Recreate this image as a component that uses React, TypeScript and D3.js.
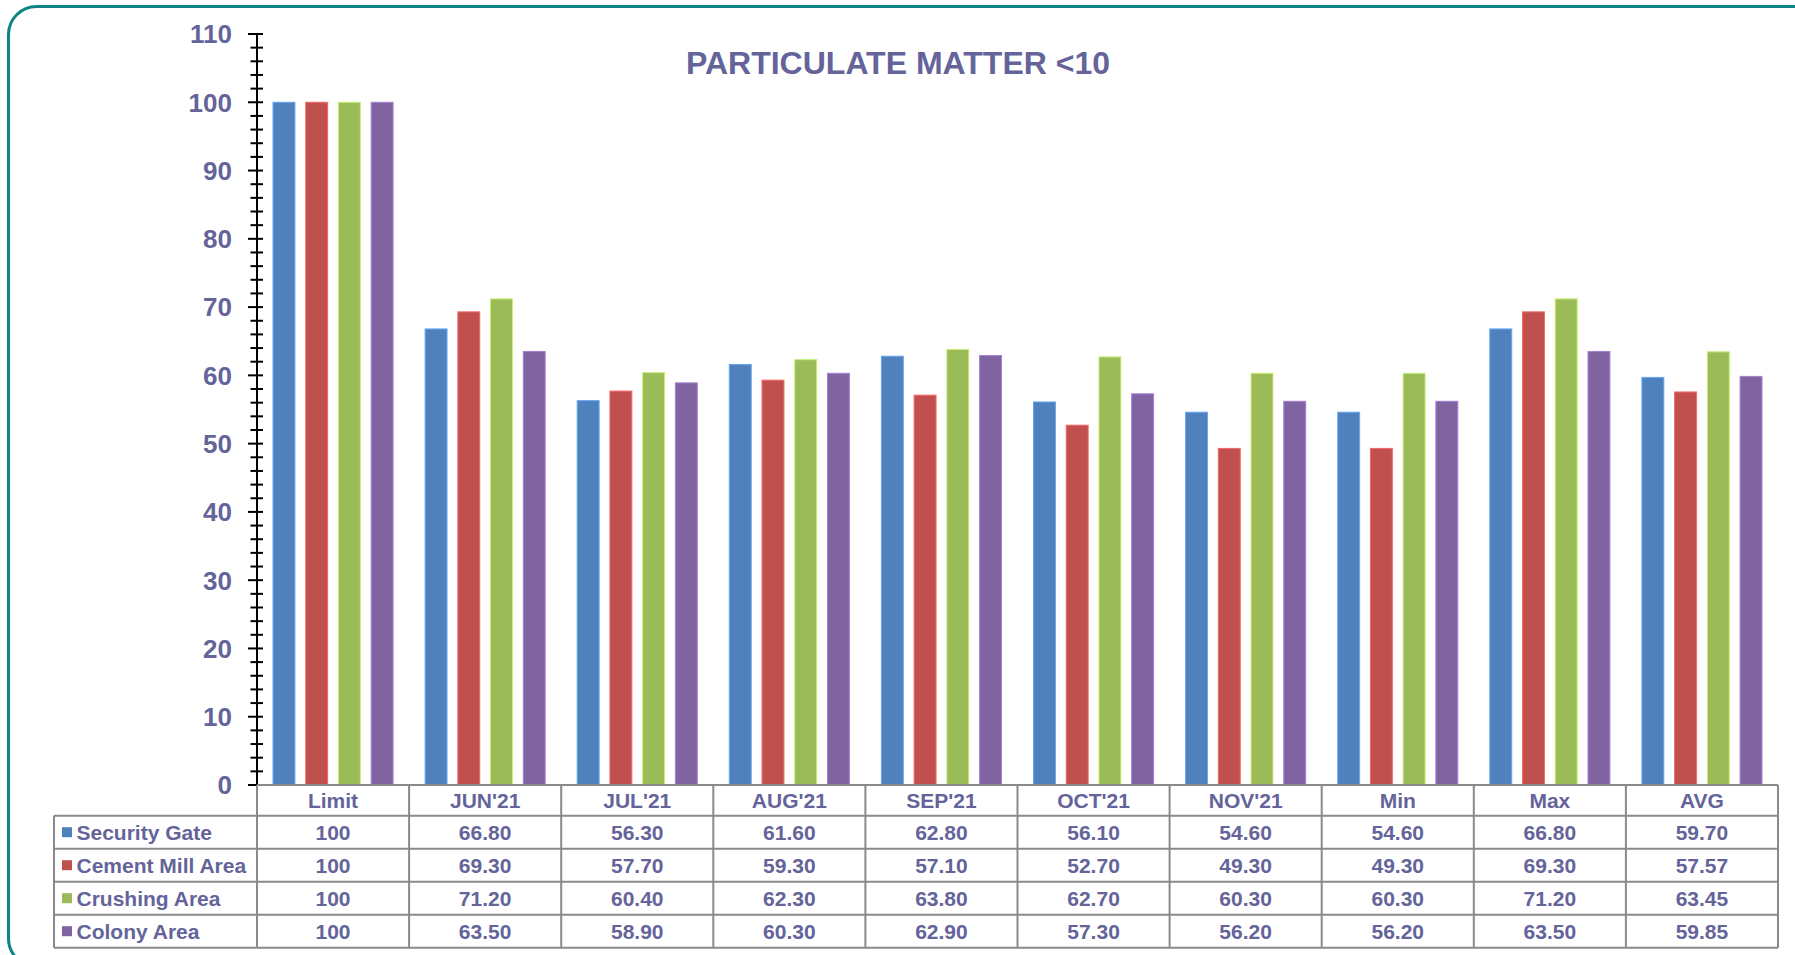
import React from "react";
import * as d3 from "d3";

const categories = ["Limit", "JUN'21", "JUL'21", "AUG'21", "SEP'21", "OCT'21", "NOV'21", "Min", "Max", "AVG"];
const seriesNames = ["Security Gate", "Cement Mill Area", "Crushing Area", "Colony Area"];
const seriesColors = ["#4f81bd", "#c0504d", "#9bbb59", "#8064a2"];
const securityGate = [100, 66.8, 56.3, 61.6, 62.8, 56.1, 54.6, 54.6, 66.8, 59.7];
const cementMill = [100, 69.3, 57.7, 59.3, 57.1, 52.7, 49.3, 49.3, 69.3, 57.57];
const crushing = [100, 71.2, 60.4, 62.3, 63.8, 62.7, 60.3, 60.3, 71.2, 63.45];
const colony = [100, 63.5, 58.9, 60.3, 62.9, 57.3, 56.2, 56.2, 63.5, 59.85];
const seriesValues = [securityGate, cementMill, crushing, colony];
const cellLabels = [
  ["100", "66.80", "56.30", "61.60", "62.80", "56.10", "54.60", "54.60", "66.80", "59.70"],
  ["100", "69.30", "57.70", "59.30", "57.10", "52.70", "49.30", "49.30", "69.30", "57.57"],
  ["100", "71.20", "60.40", "62.30", "63.80", "62.70", "60.30", "60.30", "71.20", "63.45"],
  ["100", "63.50", "58.90", "60.30", "62.90", "57.30", "56.20", "56.20", "63.50", "59.85"],
];
const yTicks = [0, 10, 20, 30, 40, 50, 60, 70, 80, 90, 100, 110];
const title = "PARTICULATE MATTER <10";

const W = 1795;
const H = 955;
const TEXT = "#64649a";
const FONT = "'Liberation Sans', Arial, sans-serif";

export default function App() {
  const plotLeft = 257;
  const plotRight = 1778;
  const y = d3.scaleLinear().domain([0, 110]).range([785, 34]);
  const x = d3.scaleBand<string>().domain(categories).range([plotLeft, plotRight]).padding(0);
  const B = x.bandwidth();
  const inner = d3
    .scaleBand<string>()
    .domain(seriesNames)
    .range([16, B - 16])
    .paddingInner(0.33)
    .paddingOuter(0);
  const minorTicks = d3.range(0, 111, 2).filter((v) => v % 10 !== 0);

  const tableTop = y(0);
  const headerBottom = 815.7;
  const rowH = 33;
  const rowsBottom = headerBottom + rowH * 4;
  const legendLeft = 54;
  const gridColor = "#8a8a8a";

  return (
    <div style={{ position: "absolute", left: 0, top: 0 }}>
      <svg width={W} height={H} style={{ display: "block", background: "#fff" }}>
        <rect x={8.5} y={6.5} width={1830} height={960} rx={28} ry={28} fill="#fff" stroke="#0e8584" strokeWidth={3} />
        <text x={898} y={74} textAnchor="middle" fontFamily={FONT} fontWeight="bold" fontSize={32} fill={TEXT}>
          {title}
        </text>

        {/* bars */}
        {categories.map((c, ci) => (
          <g key={c} transform={`translate(${x(c)},0)`}>
            {seriesNames.map((s, si) => {
              const v = seriesValues[si][ci];
              const col = seriesColors[si];
              return (
                <rect
                  key={s}
                  x={inner(s)}
                  y={y(v)}
                  width={inner.bandwidth()}
                  height={y(0) - y(v)}
                  fill={col}
                  stroke={d3.color(col)!.brighter(0.7).formatHex()}
                  strokeWidth={1}
                />
              );
            })}
          </g>
        ))}

        {/* y axis */}
        <line x1={plotLeft} x2={plotLeft} y1={y(110)} y2={y(0)} stroke="#000" strokeWidth={2} />
        {minorTicks.map((t) => (
          <line key={"m" + t} x1={250.5} x2={263} y1={y(t)} y2={y(t)} stroke="#000" strokeWidth={2} />
        ))}
        {yTicks.map((t) => (
          <g key={t}>
            <line x1={248} x2={t === 0 ? plotLeft : 263} y1={y(t)} y2={y(t)} stroke="#000" strokeWidth={2} />
            <text
              x={232}
              y={y(t)}
              dy="0.36em"
              textAnchor="end"
              fontFamily={FONT}
              fontWeight="bold"
              fontSize={26}
              fill={TEXT}
            >
              {t}
            </text>
          </g>
        ))}

        {/* data table */}
        <g fontFamily={FONT} fontWeight="bold" fill={TEXT}>
          <line x1={plotLeft} x2={plotRight} y1={tableTop} y2={tableTop} stroke={gridColor} strokeWidth={2} />
          {[0, 1, 2, 3, 4].map((r) => (
            <line
              key={"h" + r}
              x1={legendLeft}
              x2={plotRight}
              y1={headerBottom + r * rowH}
              y2={headerBottom + r * rowH}
              stroke={gridColor}
              strokeWidth={2}
            />
          ))}
          <line x1={legendLeft} x2={legendLeft} y1={headerBottom} y2={rowsBottom} stroke={gridColor} strokeWidth={2} />
          {categories.map((c) => (
            <line key={"v" + c} x1={x(c)} x2={x(c)} y1={tableTop} y2={rowsBottom} stroke={gridColor} strokeWidth={2} />
          ))}
          <line x1={plotRight} x2={plotRight} y1={tableTop} y2={rowsBottom} stroke={gridColor} strokeWidth={2} />

          {categories.map((c) => (
            <text
              key={"hd" + c}
              x={x(c)! + B / 2}
              y={(tableTop + headerBottom) / 2}
              dy="0.36em"
              textAnchor="middle"
              fontSize={21}
            >
              {c}
            </text>
          ))}
          {seriesNames.map((s, si) => {
            const cy = headerBottom + si * rowH + rowH / 2;
            return (
              <g key={"row" + s}>
                <rect x={62} y={cy - 5} width={10} height={10} fill={seriesColors[si]} />
                <text x={76.5} y={cy} dy="0.36em" fontSize={21}>
                  {s}
                </text>
                {categories.map((c, ci) => (
                  <text key={c} x={x(c)! + B / 2} y={cy} dy="0.36em" textAnchor="middle" fontSize={21}>
                    {cellLabels[si][ci]}
                  </text>
                ))}
              </g>
            );
          })}
        </g>
      </svg>
    </div>
  );
}
